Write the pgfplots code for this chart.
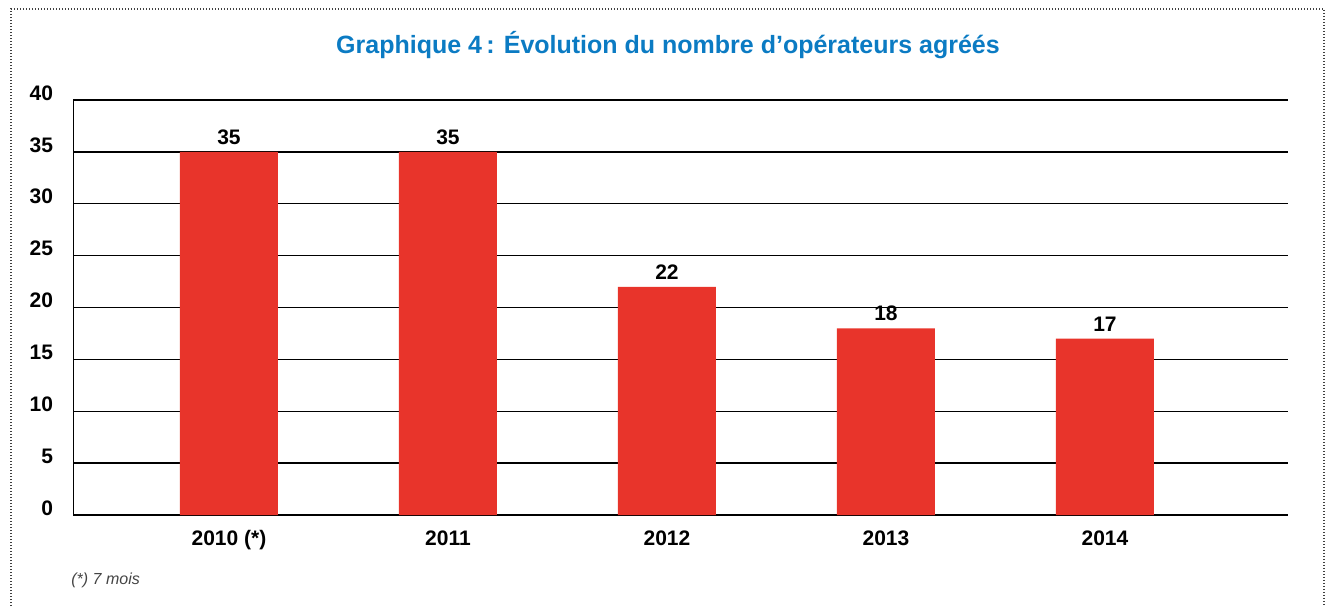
\documentclass[border=0pt]{standalone}
\usepackage{fontspec}
\setmainfont{Liberation Sans}
\usepackage{pgfplots}
\pgfplotsset{compat=1.18}
\definecolor{barred}{HTML}{E8342B}
\definecolor{titblue}{HTML}{0B7BC3}
\definecolor{notegray}{HTML}{444444}

\begin{document}
\begin{tikzpicture}
\path (0,0) rectangle (666pt,303pt);
% cadre pointillé
\draw[black!75,line width=0.6pt,dash pattern=on 0.6pt off 0.9pt]
  (5.5pt,0) -- (5.5pt,298.5pt) -- (662pt,298.5pt) -- (662pt,0);
\node[titblue,font=\fontsize{12.5}{14}\selectfont\bfseries,anchor=base,inner sep=0pt]
  at (334pt,276pt) {Graphique 4\,: Évolution du nombre d’opérateurs agréés};
\node[notegray,font=\fontsize{8}{10}\selectfont\itshape,anchor=base west,inner sep=0pt]
  at (35.5pt,11pt) {(*) 7 mois};
\begin{axis}[
  at={(36.75pt,45.5pt)},anchor=south west,
  scale only axis,width=607.25pt,height=207.5pt,
  ybar,bar width=49pt,
  xmin=-0.71,xmax=4.836,ymin=0,ymax=40,
  xtick={0,1,2,3,4},
  xticklabels={2010 (*),2011,2012,2013,2014},
  ytick={0,5,...,40},
  major tick length=0pt,
  axis lines*=left,
  x axis line style={-,line width=1.1pt,black},
  y axis line style={-,line width=0.6pt,black},
  ymajorgrids,major grid style={black,line width=0.65pt},
  /pgf/number format/assume math mode=true,
  tick label style={font=\fontsize{10.5}{12}\selectfont\bfseries,inner sep=0pt},
  xticklabel style={anchor=base,yshift=-15pt},
  yticklabel style={anchor=east,xshift=-10pt,yshift=3.5pt},
  nodes near coords,
  every node near coord/.append style={font=\fontsize{10.5}{12}\selectfont\bfseries,inner sep=0pt,anchor=south,yshift=3.5pt},
]
\addplot[fill=barred,draw=none] coordinates {(0,35) (1,35) (2,22) (3,18) (4,17)};
\end{axis}
\end{tikzpicture}
\end{document}
